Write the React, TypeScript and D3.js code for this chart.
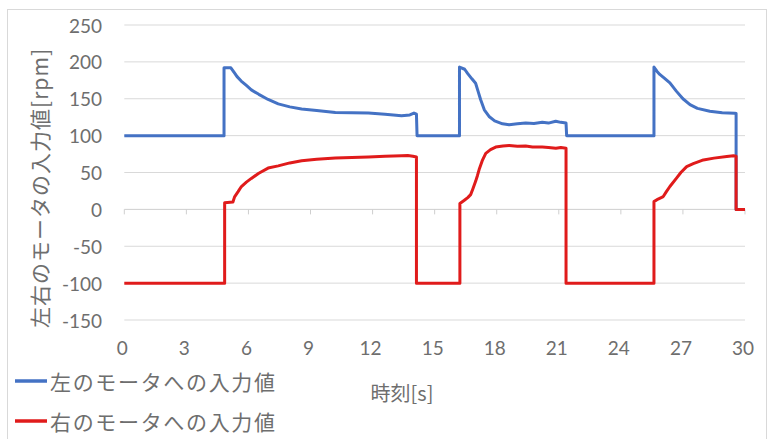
import React from "react";
import * as d3 from "d3";

const W = 771;
const H = 439;

// x-axis ticks (seconds) and y-axis ticks (rpm)
const xTicks = [0, 3, 6, 9, 12, 15, 18, 21, 24, 27, 30];
const yTicks = [-150, -100, -50, 0, 50, 100, 150, 200, 250];

const seriesNames = ["左のモータへの入力値", "右のモータへの入力値"];
const xTitle = "時刻[s]";
const yTitle = "左右のモータの入力値[rpm]";

// Left motor input (blue)
const leftTime = [
  0, 4.82, 4.82, 5.15, 5.3, 5.45, 5.65, 5.9, 6.14, 6.5, 6.95, 7.44, 8.0, 8.57, 9.3, 10.2, 11.0, 11.8,
  12.6, 13.4, 13.8, 14.0, 14.12, 14.15, 16.2, 16.2, 16.45, 16.6, 16.8, 16.98, 17.1, 17.22, 17.4, 17.63,
  17.9, 18.28, 18.6, 19.0, 19.4, 19.8, 20.2, 20.5, 20.85, 21.1, 21.35, 21.38, 25.6, 25.6, 25.75, 25.88,
  26.1, 26.37, 26.69, 27.0, 27.34, 27.7, 28.3, 28.9, 29.5, 29.57, 29.57, 30,
];
const leftValue = [
  100, 100, 192, 192, 186, 180, 174, 168, 162, 156, 149, 143, 139, 136, 134, 131.5, 131, 130.7,
  129, 127, 128, 130.5, 129, 100, 100, 193, 190, 184, 177, 171, 160, 149, 135, 126,
  120, 116, 114.8, 116, 117, 116.5, 118, 117, 119.5, 118, 117, 100, 100, 193, 187, 183,
  178, 171.5, 160, 150, 142, 137, 133, 131, 130.5, 130, 0, 0,
];

// Right motor input (red)
const rightTime = [
  0, 4.85, 4.85, 5.25, 5.33, 5.5, 5.66, 5.9, 6.14, 6.5, 6.95, 7.44, 8.0, 8.57, 9.3, 10.2, 11.0, 11.8,
  12.6, 13.4, 13.7, 13.95, 14.12, 14.12, 16.22, 16.22, 16.42, 16.6, 16.74, 16.85, 16.98, 17.07, 17.15,
  17.3, 17.47, 17.7, 17.95, 18.3, 18.6, 19.0, 19.4, 19.73, 20.2, 20.5, 20.86, 21.1, 21.35, 21.35,
  25.6, 25.6, 25.8, 26.05, 26.2, 26.37, 26.69, 26.9, 27.18, 27.5, 27.99, 28.5, 29.12, 29.44, 29.57,
  29.57, 30,
];
const rightValue = [
  -100, -100, 9, 10, 17, 24, 31, 37, 42, 49, 56, 59, 63, 66, 68, 69.6, 70.3, 71,
  72, 72.7, 73, 72, 71, -100, -100, 8, 12, 16, 20, 28, 38, 46, 54,
  66, 76, 81, 84.5, 86, 86.7, 85.5, 85.8, 84.5, 84.5, 84, 83, 84, 83, -100,
  -100, 10.5, 14, 17.4, 24, 31, 42.4, 50, 58, 62, 67, 69.5, 71.7, 72.7, 72,
  0, 0,
];

const seriesColors = ["#4472C4", "#E01B1B"];

const TEXT = "#6e6e6e";
const CJK = "'Noto Sans CJK JP', 'Noto Sans', sans-serif";
const NUM = "Lato, 'Open Sans', sans-serif";

export default function App() {
  const x = d3.scaleLinear().domain([0, 30]).range([124.3, 745]);
  const y = d3.scaleLinear().domain([-150, 250]).range([320, 25]);

  const line = d3
    .line<[number, number]>()
    .x((d) => x(d[0]))
    .y((d) => y(d[1]));

  const leftPts: [number, number][] = leftTime.map((t, i) => [t, leftValue[i]]);
  const rightPts: [number, number][] = rightTime.map((t, i) => [t, rightValue[i]]);

  const [x0, x1] = x.range();

  return (
    <svg
      width={W}
      height={H}
      style={{ position: "absolute", left: 0, top: 0, background: "#fff" }}
    >
      <rect x={0} y={0} width={W} height={H} fill="#fff" />
      <rect x={7.5} y={9.5} width={759} height={440} fill="none" stroke="#d9d9d9" strokeWidth={1} />

      {/* gridlines */}
      {yTicks.map((v) => (
        <line
          key={"g" + v}
          x1={x0}
          x2={x1}
          y1={y(v)}
          y2={y(v)}
          stroke={v === 0 ? "#cfcfcf" : "#d9d9d9"}
          strokeWidth={1}
        />
      ))}
      {/* x-axis tick marks on zero line */}
      {xTicks.map((t) => (
        <line key={"t" + t} x1={x(t)} x2={x(t)} y1={y(0)} y2={y(0) + 5} stroke="#cfcfcf" strokeWidth={1} />
      ))}

      {/* y tick labels */}
      {yTicks.map((v) => (
        <text
          key={"yl" + v}
          x={102}
          y={y(v)}
          textAnchor="end"
          dominantBaseline="central"
          fontFamily={NUM}
          fontSize={19}
          fill={TEXT}
        >
          {v}
        </text>
      ))}

      {/* x tick labels */}
      {xTicks.map((t) => (
        <text
          key={"xl" + t}
          x={x(t) - 2}
          y={347}
          textAnchor="middle"
          dominantBaseline="central"
          fontFamily={NUM}
          fontSize={19}
          fill={TEXT}
        >
          {t}
        </text>
      ))}

      {/* series */}
      <path d={line(leftPts) || ""} fill="none" stroke={seriesColors[0]} strokeWidth={3} strokeLinejoin="round" />
      <path d={line(rightPts) || ""} fill="none" stroke={seriesColors[1]} strokeWidth={3} strokeLinejoin="round" />

      {/* axis titles */}
      <text
        transform={`translate(39,188.5) rotate(-90)`}
        textAnchor="middle"
        dominantBaseline="central"
        fontFamily={CJK}
        fontSize={21}
        fill={TEXT}
        textLength={279}
        lengthAdjust="spacing"
      >
        {yTitle}
      </text>
      <text
        x={402}
        y={392}
        textAnchor="middle"
        dominantBaseline="central"
        fontFamily={CJK}
        fontSize={20}
        fill={TEXT}
      >
        {xTitle}
      </text>

      {/* legend */}
      {seriesNames.map((name, i) => {
        const ly = 381 + i * 40;
        return (
          <g key={name}>
            <line x1={15} x2={47} y1={ly} y2={ly} stroke={seriesColors[i]} strokeWidth={3.5} />
            <text
              x={50}
              y={ly}
              dominantBaseline="central"
              fontFamily={CJK}
              fontSize={21}
              fill={TEXT}
              textLength={225}
              lengthAdjust="spacing"
            >
              {name}
            </text>
          </g>
        );
      })}
    </svg>
  );
}
